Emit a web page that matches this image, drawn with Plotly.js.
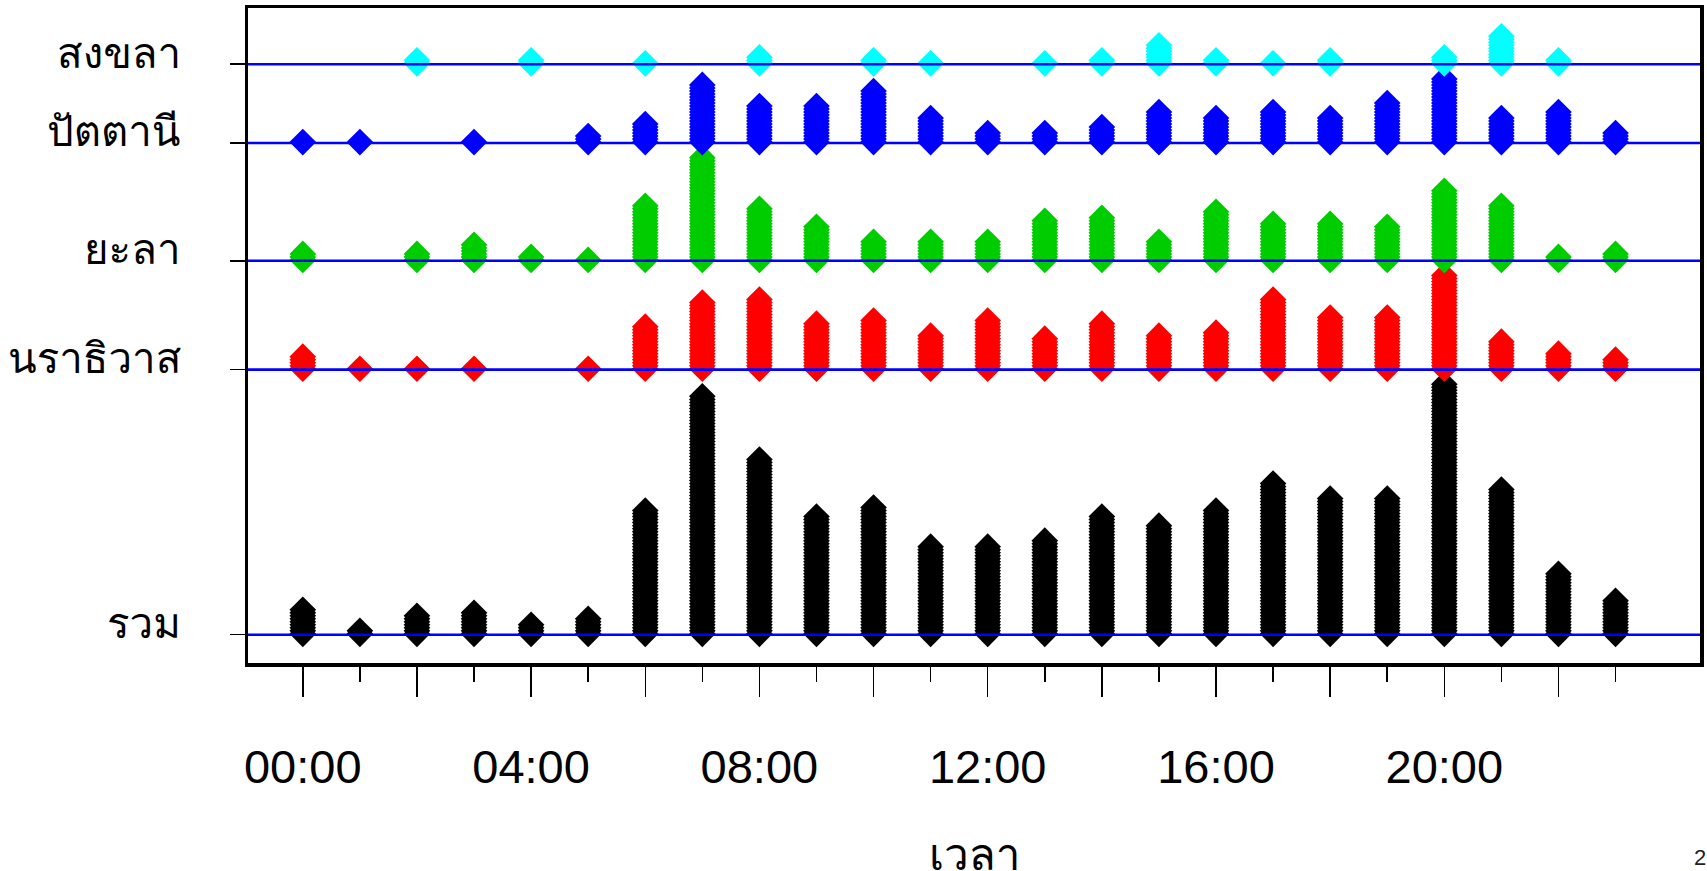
<!DOCTYPE html>
<html>
<head>
<meta charset="utf-8">
<script src="https://cdn.plot.ly/plotly-3.0.1.min.js"></script>
<style>html,body{margin:0;padding:0;background:#fff;}#chart{width:1707px;height:871px;}</style>
</head>
<body>
<div id="chart"></div>
<script>
// Hours of day (x categories)
const hours = [0,1,2,3,4,5,6,7,8,9,10,11,12,13,14,15,16,17,18,19,20,21,22,23];
const hourLabels = ["00:00","","04:00","","08:00","","12:00","","16:00","","20:00",""];
const hourLabelVals = [0,2,4,6,8,10,12,14,16,18,20,22];
const minorTickVals = [1,3,5,7,9,11,13,15,17,19,21,23];

// Counts per hour
const total      = [9,2,7,8,4,6,42,80,59,40,43,30,30,32,40,37,42,51,46,46,84,49,21,12];
const narathiwat = [5,1,1,1,0,1,15,23,24,16,17,12,17,11,16,12,13,24,18,18,32,10,6,4];
const yala       = [3,0,3,6,2,1,19,35,18,12,7,7,7,14,15,7,17,13,13,12,24,19,2,3];
const pattani    = [1,1,0,1,0,3,7,20,13,13,18,9,4,4,6,11,9,11,9,14,22,9,11,4];
const songkhla   = [0,0,2,0,2,0,1,0,3,0,2,1,0,1,2,7,2,1,2,0,3,10,2,0];

const rowNames = ["รวม","นราธิวาส","ยะลา","ปัตตานี","สงขลา"];
const rowData  = [total, narathiwat, yala, pattani, songkhla];
const rowColors = ["#000000","#FF0000","#00CD00","#0000FF","#00FFFF"];

// Layout constants
const PAD = 4.2;     // gap between stacked rows (count units)
const LIFT = 0.3;    // first dot lift above baseline

// Row baselines: each row starts above the tallest stack of the row beneath
const bases = [];
let b = 0;
rowData.forEach((arr, i) => {
  bases.push(b);
  b += Math.max.apply(null, arr) + PAD;
});

const traces = rowData.map((arr, i) => {
  const xs = [], ys = [];
  arr.forEach((n, h) => {
    for (let k = 0; k < n; k++) { xs.push(hours[h]); ys.push(bases[i] + LIFT + k); }
  });
  return {
    type: 'scatter', mode: 'markers', x: xs, y: ys, name: rowNames[i],
    marker: {symbol: 'diamond', size: 20.5, color: rowColors[i], line: {width: 0}},
    hoverinfo: 'skip', cliponaxis: false
  };
});

const shapes = bases.map(v => ({
  type: 'line', xref: 'paper', x0: 0, x1: 1, yref: 'y', y0: v, y1: v,
  line: {color: '#0000FF', width: 2.6}, layer: 'above'
}));

const FONT = 'Liberation Sans, Arial, Loma, Garuda, Tahoma, sans-serif';

// Row labels (left of the axis)
const rowLabelAnns = bases.map((v, i) => ({
  text: rowNames[i], xref: 'paper', yref: 'y', x: -0.045, y: v,
  xanchor: 'right', yanchor: 'middle', yshift: 11, showarrow: false,
  font: {size: 42, family: FONT, color: '#000'}
}));

const layout = {
  width: 1707, height: 871,
  margin: {l: 248, r: 7, t: 8, b: 208},
  paper_bgcolor: '#ffffff', plot_bgcolor: '#ffffff',
  showlegend: false,
  font: {family: FONT, color: '#000'},
  xaxis: {
    range: [-0.96, 24.48], showgrid: false, zeroline: false,
    showline: true, linecolor: '#000', linewidth: 3.5, mirror: true,
    tickmode: 'array', tickvals: hourLabelVals, ticktext: hourLabels,
    ticks: 'outside', ticklen: 30, tickwidth: 1.5, tickcolor: '#000',
    minor: {tickmode: 'array', tickvals: minorTickVals, ticks: 'outside', ticklen: 15, tickwidth: 1.5, tickcolor: '#000', showgrid: false},
    tickfont: {size: 47, family: FONT, color: '#000'},
    ticklabelstandoff: 30, automargin: false, fixedrange: true
  },
  yaxis: {
    range: [-9.4, bases[bases.length-1] + 18.7], showgrid: false, zeroline: false,
    showline: true, linecolor: '#000', linewidth: 3.5, mirror: true,
    tickmode: 'array', tickvals: bases, showticklabels: false,
    ticks: 'outside', ticklen: 15, tickwidth: 1.5, tickcolor: '#000',
    automargin: false, fixedrange: true
  },
  shapes: shapes,
  annotations: rowLabelAnns.concat([
    {text: 'เวลา', xref: 'paper', yref: 'paper', x: 0.5, y: -0.293, xanchor: 'center', yanchor: 'middle',
     showarrow: false, font: {size: 44, family: FONT, color: '#000'}},
    {text: '2', xref: 'paper', yref: 'paper', x: 1.0, y: -0.297, xanchor: 'center', yanchor: 'middle',
     showarrow: false, font: {size: 22, family: FONT, color: '#222'}}
  ])
};

Plotly.newPlot('chart', traces, layout, {displayModeBar: false, staticPlot: true});
</script>
</body>
</html>
